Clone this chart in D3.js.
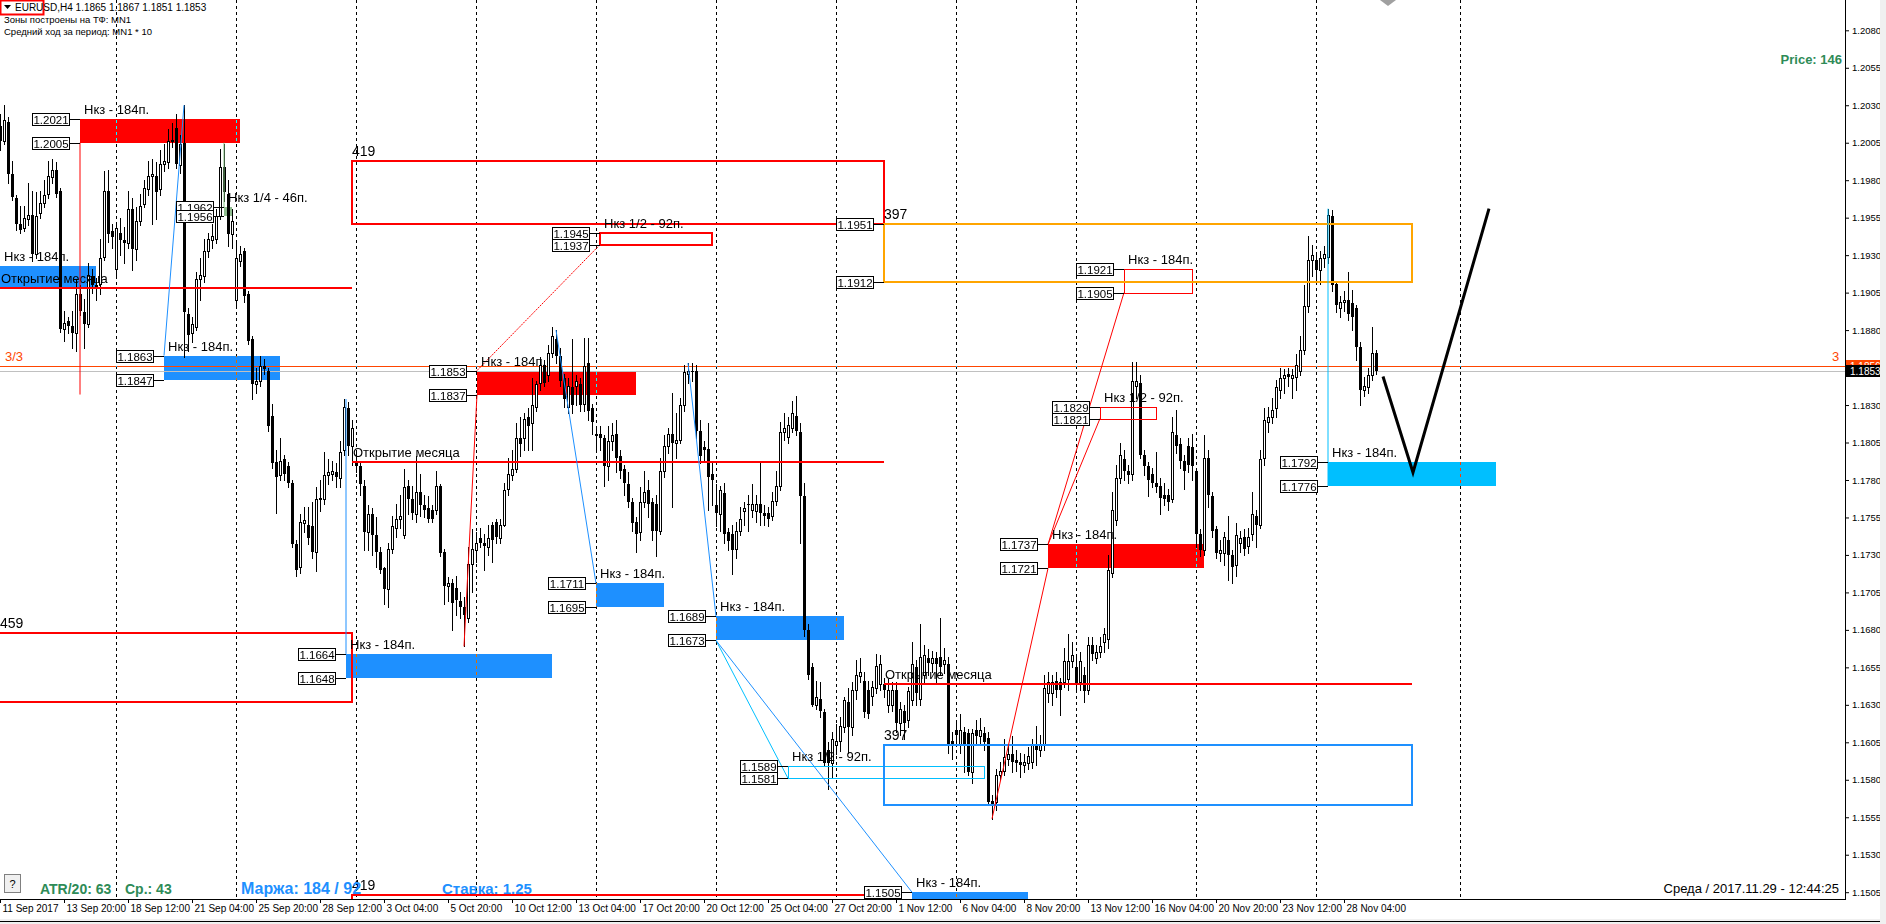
<!DOCTYPE html>
<html><head><meta charset="utf-8">
<script src="https://cdn.jsdelivr.net/npm/d3@7"></script>
<style>
html,body{margin:0;padding:0;background:#fff;overflow:hidden}
svg{display:block}
text{font-family:"Liberation Sans",Arial,sans-serif}
</style></head><body>
<svg id="c" width="1886" height="924"></svg>
<script>
// ---------------- DATA (EURUSD H4, bar 0 = 11 Sep 2017 04:00) ----------------
const opens=[1.2016,1.2006,1.2019,1.1984,1.1968,1.1951,1.1948,1.1954,1.1957,1.1931,1.1958,1.1965,1.1971,1.1982,1.1987,1.1973,1.1881,1.1886,1.1883,1.1878,
1.1904,1.1892,1.1884,1.1916,1.1910,1.1911,1.1929,1.1973,1.1946,1.1921,1.1945,1.1940,1.1938,1.1961,1.1934,1.1953,1.1964,1.1974,1.1983,1.1983,
1.1974,1.1991,1.1992,1.2006,1.2015,1.1990,1.2005,1.1891,1.1878,1.1882,1.1914,1.1916,1.1933,1.1940,1.1941,1.1956,1.1989,1.1971,1.1944,1.1900,
1.1926,1.1933,1.1904,1.1874,1.1844,1.1846,1.1856,1.1853,1.1823,1.1792,1.1783,1.1794,1.1789,1.1778,1.1737,1.1722,1.1751,1.1750,1.1749,1.1732,
1.1767,1.1767,1.1783,1.1784,1.1785,1.1781,1.1800,1.1828,1.1803,1.1792,1.1789,1.1776,1.1745,1.1757,1.1743,1.1732,1.1721,1.1707,1.1734,1.1748,
1.1754,1.1743,1.1776,1.1767,1.1757,1.1772,1.1763,1.1761,1.1760,1.1760,1.1776,1.1732,1.1709,1.1711,1.1708,1.1699,1.1695,1.1688,1.1724,1.1733,
1.1741,1.1738,1.1735,1.1750,1.1752,1.1741,1.1750,1.1774,1.1783,1.1787,1.1808,1.1808,1.1822,1.1818,1.1829,1.1845,1.1857,1.1850,1.1865,1.1874,
1.1863,1.1848,1.1829,1.1842,1.1843,1.1844,1.1831,1.1858,1.1828,1.1810,1.1811,1.1808,1.1789,1.1806,1.1811,1.1796,1.1787,1.1777,1.1765,1.1752,
1.1745,1.1765,1.1773,1.1765,1.1764,1.1746,1.1786,1.1803,1.1811,1.1805,1.1807,1.1830,1.1851,1.1853,1.1853,1.1813,1.1802,1.1801,1.1784,1.1763,
1.1757,1.1771,1.1745,1.1744,1.1734,1.1746,1.1759,1.1764,1.1760,1.1759,1.1764,1.1758,1.1758,1.1756,1.1766,1.1776,1.1812,1.1809,1.1815,1.1823,
1.1812,1.1769,1.1680,1.1655,1.1630,1.1634,1.1625,1.1600,1.1591,1.1603,1.1606,1.1615,1.1632,1.1615,1.1640,1.1649,1.1646,1.1640,1.1636,1.1641,
1.1644,1.1644,1.1630,1.1630,1.1640,1.1618,1.1626,1.1620,1.1633,1.1655,1.1634,1.1650,1.1661,1.1658,1.1661,1.1662,1.1657,1.1657,1.1606,1.1613,
1.1604,1.1612,1.1611,1.1585,1.1613,1.1609,1.1611,1.1608,1.1566,1.1565,1.1583,1.1586,1.1594,1.1597,1.1593,1.1592,1.1590,1.1591,1.1592,1.1604,
1.1600,1.1603,1.1638,1.1638,1.1646,1.1645,1.1645,1.1647,1.1659,1.1655,1.1645,1.1650,1.1640,1.1670,1.1661,1.1665,1.1672,1.1674,1.1718,1.1753,
1.1781,1.1794,1.1786,1.1784,1.1843,1.1845,1.1797,1.1789,1.1784,1.1778,1.1776,1.1770,1.1770,1.1767,1.1810,1.1804,1.1793,1.1803,1.1802,1.1786,
1.1744,1.1733,1.1795,1.1769,1.1747,1.1731,1.1731,1.1740,1.1730,1.1723,1.1738,1.1742,1.1736,1.1744,1.1756,1.1750,1.1795,1.1819,1.1822,1.1828,
1.1840,1.1848,1.1851,1.1848,1.1849,1.1853,1.1867,1.1896,1.1927,1.1927,1.1920,1.1928,1.1929,1.1956,1.1911,1.1895,1.1899,1.1900,1.1898,1.1895,
1.1869,1.1840,1.1842,1.1850,1.1865];
const highs=[1.2024,1.2030,1.2022,1.1993,1.1970,1.1963,1.1963,1.1978,1.1973,1.1972,1.1973,1.1980,1.1993,1.1994,1.1992,1.1975,1.1893,1.1889,1.1893,1.1914,
1.1910,1.1901,1.1925,1.1921,1.1915,1.1941,1.1986,1.1987,1.1951,1.1951,1.1955,1.1949,1.1973,1.1968,1.1962,1.1971,1.1980,1.1993,1.1994,1.1992,
1.2000,1.2004,1.2014,1.2018,1.2024,1.2010,1.2030,1.1895,1.1889,1.1919,1.1928,1.1941,1.1945,1.1951,1.1961,1.2001,1.2004,1.1980,1.1961,1.1938,
1.1936,1.1935,1.1906,1.1876,1.1855,1.1863,1.1861,1.1855,1.1831,1.1800,1.1808,1.1797,1.1792,1.1780,1.1740,1.1757,1.1762,1.1762,1.1765,1.1775,
1.1780,1.1799,1.1794,1.1793,1.1791,1.1806,1.1834,1.1832,1.1820,1.1800,1.1792,1.1780,1.1763,1.1761,1.1755,1.1735,1.1722,1.1738,1.1756,1.1764,
1.1770,1.1787,1.1780,1.1776,1.1796,1.1784,1.1770,1.1769,1.1763,1.1786,1.1777,1.1734,1.1715,1.1714,1.1716,1.1705,1.1702,1.1735,1.1747,1.1745,
1.1748,1.1744,1.1750,1.1752,1.1754,1.1754,1.1778,1.1795,1.1800,1.1818,1.1822,1.1825,1.1828,1.1848,1.1846,1.1862,1.1860,1.1870,1.1882,1.1880,
1.1868,1.1851,1.1848,1.1874,1.1850,1.1848,1.1875,1.1875,1.1831,1.1815,1.1816,1.1810,1.1816,1.1818,1.1820,1.1800,1.1790,1.1785,1.1768,1.1755,
1.1775,1.1786,1.1780,1.1768,1.1770,1.1795,1.1810,1.1815,1.1838,1.1825,1.1835,1.1857,1.1858,1.1858,1.1857,1.1820,1.1806,1.1818,1.1791,1.1777,
1.1776,1.1778,1.1748,1.1750,1.1752,1.1762,1.1765,1.1770,1.1777,1.1770,1.1792,1.1763,1.1762,1.1772,1.1786,1.1819,1.1825,1.1822,1.1833,1.1836,
1.1818,1.1778,1.1684,1.1658,1.1646,1.1645,1.1627,1.1605,1.1612,1.1617,1.1622,1.1635,1.1641,1.1645,1.1660,1.1661,1.1652,1.1646,1.1646,1.1664,
1.1663,1.1648,1.1647,1.1645,1.1645,1.1632,1.1630,1.1642,1.1672,1.1660,1.1684,1.1670,1.1667,1.1666,1.1665,1.1688,1.1668,1.1662,1.1612,1.1620,
1.1624,1.1615,1.1614,1.1614,1.1620,1.1621,1.1615,1.1612,1.1570,1.1587,1.1592,1.1607,1.1604,1.1609,1.1600,1.1598,1.1597,1.1602,1.1607,1.1616,
1.1610,1.1650,1.1652,1.1650,1.1652,1.1648,1.1668,1.1677,1.1672,1.1662,1.1665,1.1655,1.1675,1.1675,1.1670,1.1675,1.1681,1.1730,1.1772,1.1790,
1.1805,1.1800,1.1790,1.1859,1.1859,1.1850,1.1800,1.1792,1.1788,1.1799,1.1781,1.1778,1.1774,1.1822,1.1827,1.1808,1.1797,1.1808,1.1811,1.1788,
1.1747,1.1810,1.1800,1.1772,1.1749,1.1740,1.1745,1.1756,1.1733,1.1751,1.1746,1.1747,1.1748,1.1772,1.1760,1.1800,1.1828,1.1829,1.1835,1.1847,
1.1855,1.1854,1.1855,1.1854,1.1864,1.1876,1.1910,1.1943,1.1937,1.1930,1.1933,1.1936,1.1961,1.1960,1.1912,1.1903,1.1906,1.1919,1.1907,1.1897,
1.1872,1.1849,1.1855,1.1882,1.1867];
const lows=[1.2000,1.2004,1.1978,1.1967,1.1947,1.1945,1.1946,1.1950,1.1926,1.1928,1.1955,1.1962,1.1968,1.1978,1.1969,1.1879,1.1873,1.1878,1.1868,1.1866,
1.1890,1.1868,1.1882,1.1905,1.1900,1.1904,1.1927,1.1939,1.1935,1.1915,1.1930,1.1925,1.1935,1.1920,1.1927,1.1950,1.1962,1.1970,1.1951,1.1954,
1.1970,1.1986,1.1988,1.2002,1.1988,1.1985,1.1862,1.1866,1.1872,1.1880,1.1900,1.1912,1.1929,1.1935,1.1938,1.1954,1.1966,1.1936,1.1935,1.1897,
1.1923,1.1899,1.1871,1.1834,1.1838,1.1843,1.1851,1.1813,1.1788,1.1758,1.1780,1.1780,1.1775,1.1735,1.1716,1.1718,1.1745,1.1737,1.1728,1.1719,
1.1759,1.1764,1.1777,1.1780,1.1775,1.1775,1.1797,1.1797,1.1790,1.1785,1.1770,1.1733,1.1733,1.1730,1.1722,1.1718,1.1697,1.1695,1.1731,1.1742,
1.1748,1.1741,1.1757,1.1754,1.1752,1.1756,1.1755,1.1752,1.1752,1.1757,1.1729,1.1697,1.1699,1.1680,1.1690,1.1688,1.1669,1.1685,1.1705,1.1725,
1.1735,1.1720,1.1730,1.1725,1.1738,1.1738,1.1749,1.1770,1.1780,1.1785,1.1796,1.1800,1.1800,1.1800,1.1826,1.1840,1.1843,1.1846,1.1862,1.1858,
1.1843,1.1829,1.1825,1.1825,1.1830,1.1826,1.1826,1.1820,1.1811,1.1800,1.1800,1.1776,1.1780,1.1800,1.1785,1.1781,1.1770,1.1762,1.1746,1.1732,
1.1740,1.1762,1.1755,1.1740,1.1729,1.1744,1.1782,1.1798,1.1762,1.1795,1.1805,1.1826,1.1845,1.1846,1.1808,1.1791,1.1792,1.1760,1.1763,1.1749,
1.1746,1.1738,1.1733,1.1717,1.1728,1.1743,1.1750,1.1746,1.1755,1.1752,1.1750,1.1750,1.1749,1.1753,1.1763,1.1773,1.1807,1.1805,1.1812,1.1810,
1.1738,1.1676,1.1647,1.1629,1.1627,1.1622,1.1589,1.1574,1.1582,1.1597,1.1599,1.1612,1.1598,1.1610,1.1634,1.1645,1.1622,1.1621,1.1630,1.1638,
1.1640,1.1635,1.1625,1.1626,1.1612,1.1610,1.1607,1.1615,1.1630,1.1630,1.1630,1.1645,1.1650,1.1652,1.1645,1.1650,1.1651,1.1598,1.1594,1.1603,
1.1598,1.1585,1.1583,1.1578,1.1603,1.1603,1.1600,1.1563,1.1554,1.1560,1.1580,1.1583,1.1590,1.1585,1.1586,1.1582,1.1585,1.1587,1.1588,1.1590,
1.1596,1.1600,1.1632,1.1630,1.1635,1.1623,1.1642,1.1640,1.1655,1.1640,1.1640,1.1632,1.1637,1.1660,1.1658,1.1662,1.1665,1.1668,1.1715,1.1750,
1.1778,1.1780,1.1778,1.1780,1.1835,1.1795,1.1783,1.1769,1.1775,1.1772,1.1757,1.1763,1.1760,1.1765,1.1798,1.1788,1.1774,1.1785,1.1780,1.1735,
1.1729,1.1730,1.1762,1.1742,1.1728,1.1726,1.1723,1.1713,1.1711,1.1716,1.1732,1.1730,1.1731,1.1740,1.1735,1.1748,1.1790,1.1812,1.1818,1.1822,
1.1835,1.1838,1.1843,1.1835,1.1840,1.1850,1.1864,1.1892,1.1916,1.1911,1.1911,1.1922,1.1925,1.1906,1.1892,1.1889,1.1893,1.1887,1.1880,1.1860,
1.1830,1.1836,1.1838,1.1847,1.1851];
const closes=[1.2006,1.2020,1.1984,1.1969,1.1951,1.1947,1.1955,1.1957,1.1931,1.1956,1.1965,1.1970,1.1983,1.1987,1.1971,1.1881,1.1885,1.1883,1.1878,1.1904,
1.1893,1.1884,1.1917,1.1910,1.1908,1.1928,1.1973,1.1944,1.1942,1.1948,1.1940,1.1938,1.1961,1.1934,1.1953,1.1963,1.1975,1.1983,1.1984,1.1972,
1.1991,1.1993,1.2006,1.2007,1.1991,1.2004,1.1892,1.1877,1.1884,1.1914,1.1917,1.1933,1.1941,1.1943,1.1956,1.1989,1.1972,1.1944,1.1953,1.1928,
1.1931,1.1903,1.1873,1.1844,1.1846,1.1856,1.1854,1.1816,1.1791,1.1782,1.1793,1.1784,1.1778,1.1737,1.1720,1.1752,1.1753,1.1741,1.1732,1.1767,
1.1768,1.1783,1.1785,1.1786,1.1782,1.1799,1.1829,1.1803,1.1815,1.1789,1.1777,1.1745,1.1757,1.1743,1.1732,1.1720,1.1707,1.1734,1.1749,1.1754,
1.1756,1.1775,1.1767,1.1758,1.1772,1.1763,1.1760,1.1754,1.1754,1.1776,1.1731,1.1709,1.1711,1.1698,1.1700,1.1695,1.1690,1.1724,1.1734,1.1738,
1.1738,1.1736,1.1741,1.1740,1.1742,1.1750,1.1773,1.1784,1.1787,1.1808,1.1804,1.1821,1.1816,1.1830,1.1844,1.1857,1.1845,1.1865,1.1876,1.1863,
1.1846,1.1834,1.1843,1.1830,1.1846,1.1830,1.1856,1.1826,1.1819,1.1811,1.1808,1.1789,1.1806,1.1810,1.1795,1.1786,1.1778,1.1765,1.1751,1.1744,
1.1765,1.1772,1.1764,1.1746,1.1746,1.1786,1.1803,1.1811,1.1805,1.1807,1.1830,1.1852,1.1853,1.1852,1.1813,1.1796,1.1800,1.1782,1.1780,1.1758,
1.1773,1.1744,1.1739,1.1733,1.1746,1.1754,1.1761,1.1763,1.1764,1.1764,1.1758,1.1756,1.1754,1.1766,1.1776,1.1812,1.1815,1.1817,1.1825,1.1813,
1.1769,1.1680,1.1650,1.1630,1.1635,1.1626,1.1591,1.1591,1.1607,1.1606,1.1616,1.1633,1.1615,1.1640,1.1650,1.1652,1.1625,1.1624,1.1642,1.1656,
1.1657,1.1640,1.1640,1.1640,1.1618,1.1627,1.1618,1.1639,1.1657,1.1638,1.1662,1.1663,1.1658,1.1661,1.1657,1.1655,1.1660,1.1604,1.1603,1.1610,
1.1613,1.1603,1.1585,1.1611,1.1609,1.1613,1.1605,1.1565,1.1563,1.1583,1.1586,1.1595,1.1597,1.1592,1.1591,1.1590,1.1592,1.1596,1.1603,1.1600,
1.1603,1.1641,1.1645,1.1645,1.1640,1.1640,1.1659,1.1659,1.1663,1.1643,1.1659,1.1639,1.1670,1.1664,1.1665,1.1669,1.1677,1.1720,1.1760,1.1781,
1.1797,1.1786,1.1783,1.1846,1.1846,1.1797,1.1789,1.1780,1.1778,1.1775,1.1768,1.1767,1.1765,1.1812,1.1803,1.1793,1.1786,1.1790,1.1789,1.1744,
1.1733,1.1795,1.1770,1.1746,1.1731,1.1733,1.1742,1.1730,1.1722,1.1743,1.1741,1.1734,1.1742,1.1757,1.1750,1.1794,1.1820,1.1822,1.1827,1.1842,
1.1848,1.1850,1.1849,1.1850,1.1857,1.1867,1.1896,1.1927,1.1930,1.1920,1.1928,1.1931,1.1957,1.1910,1.1897,1.1899,1.1900,1.1891,1.1889,1.1869,
1.1840,1.1843,1.1850,1.1865,1.1853];

const priceTicks=[1.2080,1.2055,1.2030,1.2005,1.1980,1.1955,1.1930,1.1905,1.1880,1.1855,1.1830,1.1805,1.1780,1.1755,1.1730,1.1705,1.1680,1.1655,1.1630,1.1605,1.1580,1.1555,1.1530,1.1505];
const dateTickBars=[0,16,32,48,64,80,96,112,128,144,160,176,192,208,224,240,256,272,288,304,320,336];
const dateTickLabels=["11 Sep 2017","13 Sep 20:00","18 Sep 12:00","21 Sep 04:00","25 Sep 20:00","28 Sep 12:00","3 Oct 04:00","5 Oct 20:00","10 Oct 12:00","13 Oct 04:00","17 Oct 20:00","20 Oct 12:00","25 Oct 04:00","27 Oct 20:00","1 Nov 12:00","6 Nov 04:00","8 Nov 20:00","13 Nov 12:00","16 Nov 04:00","20 Nov 20:00","23 Nov 12:00","28 Nov 04:00"];
const weekSeparators=[29,59,89,119,149,179,209,239,269,299,329,365];

// filled zones: [barFrom, barTo, top, bottom, colour, caption, showTags]
const fillZones=[
 [20,60,1.2021,1.2005,"#ff0000","Нкз - 184п.",true],
 [0,24,1.1923,1.1908,"#1e90ff","Нкз - 184п.",false],
 [41,70,1.1863,1.1847,"#1e90ff","Нкз - 184п.",true],
 [56,58,1.1962,1.1956,"#8fbc8f","Нкз 1/4 - 46п.",true],
 [119.25,159,1.1853,1.1837,"#ff0000","Нкз - 184п.",true],
 [86.5,138,1.1664,1.1648,"#1e90ff","Нкз - 184п.",true],
 [149,166,1.1711,1.1695,"#1e90ff","Нкз - 184п.",true],
 [179,211,1.1689,1.1673,"#1e90ff","Нкз - 184п.",true],
 [228,257,1.1505,1.1489,"#1e90ff","Нкз - 184п.",true],
 [262,301,1.1737,1.1721,"#ff0000","Нкз - 184п.",true],
 [332,374,1.1792,1.1776,"#00bfff","Нкз - 184п.",true]
];
// outlined zones: [barFrom, barTo, top, bottom, colour, width, caption, showTags]
const outlineZones=[
 [150,178,1.1945,1.1937,"#ff0000",2,"Нкз 1/2 - 92п.",true],
 [197,246,1.1589,1.1581,"#00bfff",1,"Нкз 1/2 - 92п.",true],
 [275,289,1.1829,1.1821,"#ff0000",1,"Нкз 1/2 - 92п.",true],
 [281,298,1.1921,1.1905,"#ff0000",1,"Нкз - 184п.",true],
 [88,221,1.1993,1.1951,"#ff0000",2,"419",false],
 [-3,88,1.1678,1.1632,"#ff0000",2,"459",false],
 [221,353,1.1951,1.1912,"#ffa500",2,"397",true],
 [221,353,1.1603,1.1563,"#1e90ff",2,"397",false],
 [88,221,1.1503,1.1440,"#ff0000",2,"419",false]
];
// month open lines: [barFrom, barTo, price]
const monthOpen=[[-3,88,1.1908],[88,221,1.1792],[221,353,1.1644]];
// connector lines: [bar1, price1, bar2, price2, colour, dashed]
const links=[
 [20,1.2005,20,1.1837,"#ff0000",false],
 [116,1.1669,119.25,1.1837,"#ff0000",false],
 [119.25,1.1853,150,1.1937,"#ff0000",true],
 [248,1.1554,262,1.1721,"#ff0000",false],
 [262,1.1737,275,1.1821,"#ff0000",false],
 [262,1.1737,281,1.1905,"#ff0000",false],
 [46,1.2030,41,1.1863,"#1e90ff",false],
 [86.5,1.1834,86.5,1.1664,"#1e90ff",false],
 [139,1.1880,149,1.1711,"#1e90ff",false],
 [172,1.1858,179,1.1689,"#1e90ff",false],
 [179,1.1673,197,1.1581,"#00bfff",false],
 [179,1.1673,228,1.1505,"#1e90ff",false],
 [332,1.1961,332,1.1776,"#00bfff",false],
 [56,1.2005,56,1.1962,"#7fbf7f",false]
];
const forecastBars=[345.75,353.25,372.25];
const forecastPrices=[1.1849,1.1785,1.1961];
const levelLine=1.1856, bidPrice=1.1853;

// ---------------- DRAW ----------------
const W=1886,H=924,PR=1845,PB=899;
const x=d3.scaleLinear().domain([0,461.25]).range([0,PR]);
const y=d3.scaleLinear().domain([1.2080,1.1505]).range([30.3,892.2]);
const svg=d3.select("#c");
svg.append("rect").attr("width",W).attr("height",H).attr("fill","#fff");
const defs=svg.append("defs");
defs.append("clipPath").attr("id","clip").append("rect").attr("x",0).attr("y",0).attr("width",PR).attr("height",PB);
defs.append("clipPath").attr("id","clipTag").append("rect").attr("x",PR).attr("y",0).attr("width",50).attr("height",Math.round(y(bidPrice))-6);
const plot=svg.append("g").attr("clip-path","url(#clip)");
plot.append("rect").attr("width",PR).attr("height",PB).attr("fill","#fff");
const r=v=>Math.round(v);

// filled zones
plot.append("g").selectAll("rect").data(fillZones).join("rect")
 .attr("x",d=>r(x(d[0]))).attr("y",d=>r(y(d[2])))
 .attr("width",d=>r(x(d[1]))-r(x(d[0]))).attr("height",d=>r(y(d[3]))-r(y(d[2])))
 .attr("fill",d=>d[4]);

// grey bid line & orange level line
plot.append("line").attr("x1",0).attr("x2",PR).attr("y1",r(y(bidPrice))+0.5).attr("y2",r(y(bidPrice))+0.5).attr("stroke","#c0c0c0");
plot.append("line").attr("x1",0).attr("x2",PR).attr("y1",r(y(levelLine))+0.5).attr("y2",r(y(levelLine))+0.5).attr("stroke","#ff4500");

// period separators (inverted colour like the terminal)
plot.append("g").attr("shape-rendering","crispEdges").selectAll("line").data(weekSeparators).join("line")
 .style("mix-blend-mode","difference")
 .attr("x1",d=>r(x(d))+0.5).attr("x2",d=>r(x(d))+0.5).attr("y1",0).attr("y2",PB)
 .attr("stroke","#fff").attr("stroke-dasharray","3,3");

// candles
const bars=d3.range(opens.length);
const cg=plot.append("g").attr("shape-rendering","crispEdges");
cg.selectAll("line").data(bars).join("line")
 .attr("x1",i=>r(x(i))+0.5).attr("x2",i=>r(x(i))+0.5)
 .attr("y1",i=>r(y(highs[i]))).attr("y2",i=>r(y(lows[i]))+1)
 .attr("stroke","#000");
cg.selectAll("rect").data(bars).join("rect")
 .each(function(i){
   const up=closes[i]>=opens[i];
   const t=r(y(Math.max(opens[i],closes[i]))), b=r(y(Math.min(opens[i],closes[i])));
   const s=d3.select(this);
   if(up){ s.attr("x",r(x(i))-0.5).attr("y",t+0.5).attr("width",2).attr("height",Math.max(b-t,0)).attr("fill","#fff").attr("stroke","#000"); }
   else { s.attr("x",r(x(i))-1).attr("y",t).attr("width",3).attr("height",Math.max(b-t,1)).attr("fill","#000"); }
 });

// outlined zones
plot.append("g").selectAll("rect").data(outlineZones).join("rect")
 .attr("x",d=>r(x(d[0]))+(d[5]==1?0.5:0)).attr("y",d=>r(y(d[2]))+(d[5]==1?0.5:0))
 .attr("width",d=>r(x(d[1]))-r(x(d[0]))).attr("height",d=>r(y(d[3]))-r(y(d[2])))
 .attr("fill","none").attr("stroke",d=>d[4]).attr("stroke-width",d=>d[5]);

// month open lines
plot.append("g").selectAll("line").data(monthOpen).join("line")
 .attr("x1",d=>x(d[0])).attr("x2",d=>x(d[1])).attr("y1",d=>r(y(d[2]))).attr("y2",d=>r(y(d[2])))
 .attr("stroke","#ff0000").attr("stroke-width",2);
plot.append("g").selectAll("text").data(monthOpen).join("text")
 .attr("x",d=>Math.max(x(d[0]),0)+1).attr("y",d=>r(y(d[2]))-5)
 .attr("font-size",13).attr("fill","#000").text("Открытие месяца");

// connector lines
plot.append("g").selectAll("line").data(links).join("line")
 .attr("x1",d=>x(d[0])).attr("y1",d=>y(d[1])).attr("x2",d=>x(d[2])).attr("y2",d=>y(d[3]))
 .attr("stroke",d=>d[4]).attr("stroke-width",1).attr("stroke-dasharray",d=>d[5]?"2,1":null);

// zone captions
const capt=fillZones.map(d=>[d[0],d[2],d[5]]).concat(outlineZones.map(d=>[d[0],d[2],d[6]]));
plot.append("g").selectAll("text").data(capt).join("text")
 .attr("x",d=>Math.max(x(d[0]),0)+(d[2].length<4?0:4)).attr("y",d=>r(y(d[1]))-5)
 .attr("font-size",d=>d[2].length<4?14:13).attr("fill","#000").text(d=>d[2]);

// price tags
const tags=[];
fillZones.forEach(d=>{if(d[6]){tags.push([d[0],d[2]]);tags.push([d[0],d[3]]);}});
outlineZones.forEach(d=>{if(d[7]){tags.push([d[0],d[2]]);tags.push([d[0],d[3]]);}});
const tg=plot.append("g").attr("shape-rendering","crispEdges");
tags.forEach(t=>{
  const x0=r(x(t[0])), yy=r(y(t[1]));
  tg.append("line").attr("x1",x0-10).attr("x2",x0).attr("y1",yy+0.5).attr("y2",yy+0.5).attr("stroke","#000");
  tg.append("rect").attr("x",x0-47.5).attr("y",yy-5.5).attr("width",37).attr("height",12).attr("fill","#fff").attr("stroke","#000");
  tg.append("text").attr("x",x0-29).attr("y",yy+4.5).attr("text-anchor","middle").attr("font-size",11.5).attr("fill","#000").text(t[1].toFixed(4));
});

// forecast path
plot.append("path").datum(forecastBars.map((b,i)=>[x(b),y(forecastPrices[i])]))
 .attr("d",d3.line()).attr("fill","none").attr("stroke","#000").attr("stroke-width",3);

// chart shift marker
svg.append("path").attr("d",`M${r(x(345))},0 L${r(x(349))},0 L${r(x(347))},6 Z`).attr("fill","#a0a0a0");

// level labels
svg.append("text").attr("x",5).attr("y",r(y(levelLine))-5).attr("font-size",13).attr("fill","#ff4500").text("3/3");
svg.append("text").attr("x",1832).attr("y",r(y(levelLine))-5).attr("font-size",13).attr("fill","#ff4500").text("3");

// ---------------- AXES ----------------
const ya=svg.append("g").attr("transform",`translate(${PR},0)`)
 .call(d3.axisRight(y).tickValues(priceTicks).tickSize(4).tickPadding(3).tickFormat(d3.format(".4f")));
ya.select(".domain").remove();
ya.selectAll("text").attr("font-size",9.5).attr("font-family","Liberation Sans, Arial").attr("fill","#000");
svg.append("line").attr("x1",PR+0.5).attr("x2",PR+0.5).attr("y1",0).attr("y2",PB+1).attr("stroke","#000");

const xa=svg.append("g").attr("transform",`translate(0,${PB})`)
 .call(d3.axisBottom(x).tickValues(dateTickBars).tickSize(4).tickFormat((d,i)=>dateTickLabels[i]));
xa.select(".domain").remove();
xa.selectAll("text").attr("text-anchor","start").attr("dx",2).attr("dy",0).attr("y",13).attr("font-size",10)
 .attr("font-family","Liberation Sans, Arial").attr("fill","#000");
svg.append("line").attr("x1",0).attr("x2",PR+1).attr("y1",PB+0.5).attr("y2",PB+0.5).attr("stroke","#000");

// price markers on axis
const mk=svg.append("g");
const mo=mk.append("g").attr("clip-path","url(#clipTag)");
mo.append("rect").attr("x",PR+1).attr("y",r(y(levelLine))-6).attr("width",38).attr("height",12).attr("fill","#ff4500");
mo.append("text").attr("x",PR+5).attr("y",r(y(levelLine))+3.5).attr("font-size",10).attr("fill","#fff").text(levelLine.toFixed(4));
mk.append("rect").attr("x",PR+1).attr("y",r(y(bidPrice))-6).attr("width",38).attr("height",12).attr("fill","#000");
mk.append("text").attr("x",PR+5).attr("y",r(y(bidPrice))+4).attr("font-size",10).attr("fill","#fff").text(bidPrice.toFixed(4));

// window frame
svg.append("rect").attr("x",0).attr("y",919).attr("width",W).attr("height",5).attr("fill","#f0f0f0");
svg.append("line").attr("x1",0).attr("x2",1881).attr("y1",921.5).attr("y2",921.5).attr("stroke","#000");
svg.append("rect").attr("x",1880).attr("y",0).attr("width",6).attr("height",H).attr("fill","#f0f0f0");

// ---------------- TEXTS ----------------
svg.append("rect").attr("x",0.5).attr("y",0.5).attr("width",43).attr("height",14).attr("fill","none").attr("stroke","#ff0000").attr("stroke-width",2);
svg.append("path").attr("d","M4,5 L11,5 L7.5,9 Z").attr("fill","#000");
svg.append("text").attr("x",15).attr("y",11).attr("font-size",10).attr("fill","#000").text("EURUSD,H4  1.1865 1.1867 1.1851 1.1853");
svg.append("text").attr("x",4).attr("y",23).attr("font-size",9.5).attr("fill","#000").text("Зоны построены на ТФ: MN1");
svg.append("text").attr("x",4).attr("y",35).attr("font-size",9.5).attr("fill","#000").text("Средний ход за период: MN1 * 10");
svg.append("text").attr("x",1842).attr("y",64).attr("text-anchor","end").attr("font-size",13).attr("font-weight","bold").attr("fill","#2e8b57").text("Price: 146");

svg.append("rect").attr("x",4.5).attr("y",874.5).attr("width",16).attr("height",18).attr("fill","#f0f0f0").attr("stroke","#808080");
svg.append("text").attr("x",12.5).attr("y",888).attr("text-anchor","middle").attr("font-size",11).attr("fill","#000").text("?");
svg.append("text").attr("x",40).attr("y",894).attr("font-size",14).attr("font-weight","bold").attr("fill","#2e8b57").text("ATR/20: 63");
svg.append("text").attr("x",125).attr("y",894).attr("font-size",14).attr("font-weight","bold").attr("fill","#2e8b57").text("Ср.: 43");
svg.append("text").attr("x",241).attr("y",894).attr("font-size",16).attr("font-weight","bold").attr("fill","#1e90ff").text("Маржа: 184 / 92");
svg.append("text").attr("x",442).attr("y",894).attr("font-size",15).attr("font-weight","bold").attr("fill","#1e90ff").text("Ставка: 1.25");
svg.append("text").attr("x",1839).attr("y",893).attr("text-anchor","end").attr("font-size",13).attr("fill","#000").text("Среда / 2017.11.29 - 12:44:25");
</script>
</body></html>
